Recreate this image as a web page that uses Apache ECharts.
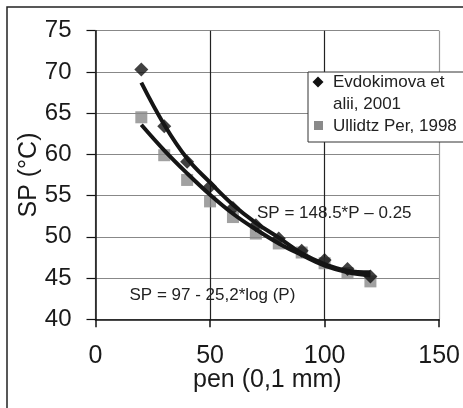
<!DOCTYPE html>
<html><head><meta charset="utf-8">
<script src="https://cdn.jsdelivr.net/npm/echarts@6/dist/echarts.min.js"></script>
<style>html,body{margin:0;padding:0;background:#fff}#c{width:463px;height:408px}</style>
</head><body><div id="c"></div>
<script>
const xCats = [20, 30, 40, 50, 60, 70, 80, 90, 100, 110, 120];
const evdokimova = [70.3, 63.4, 59.1, 56.1, 53.5, 51.4, 49.8, 48.3, 47.2, 46.1, 45.2];
const ullidtz = [64.5, 59.9, 56.9, 54.3, 52.4, 50.4, 49.2, 48.1, 46.8, 45.6, 44.6];
const fitPower = [68.7, 63.6, 59.5, 56.6, 53.9, 51.7, 49.9, 48.0, 46.7, 45.9, 45.7];
const fitLog = [63.6, 60.5, 57.7, 55.1, 52.8, 50.9, 49.2, 47.8, 46.5, 45.7, 45.3];
const xTicks = [0, 50, 100, 150];
const yTicks = [40, 45, 50, 55, 60, 65, 70, 75];
const seriesNames = ['Evdokimova et alii, 2001', 'Ullidtz Per, 1998'];

const pair = (arr) => xCats.map((x, i) => [x, arr[i]]);
const F = 'Liberation Sans, Arial, sans-serif';

const chart = echarts.init(document.getElementById('c'));
chart.setOption({
  animation: false,
  backgroundColor: '#fff',
  grid: { left: 95.5, right: 23, top: 30.7, bottom: 88.7 },
  xAxis: {
    type: 'value', min: xTicks[0], max: xTicks[xTicks.length - 1], interval: 50,
    name: 'pen (0,1 mm)', nameLocation: 'middle', nameGap: 48, nameMoveOverlap: false,
    nameTextStyle: { fontFamily: F, fontSize: 25, color: '#1a1a1a' },
    axisLine: { lineStyle: { color: '#111', width: 1.5 } },
    axisTick: { length: 8, lineStyle: { color: '#111', width: 1.5 } },
    axisLabel: { fontFamily: F, fontSize: 25, color: '#1a1a1a', margin: 24 },
    splitLine: { lineStyle: { color: ['#888', '#222', '#222', '#999'], width: 1.2 } }
  },
  yAxis: {
    type: 'value', min: yTicks[0], max: yTicks[yTicks.length - 1], interval: 5,
    name: 'SP (°C)', nameLocation: 'middle', nameGap: 54, nameMoveOverlap: false,
    nameTextStyle: { fontFamily: F, fontSize: 25, color: '#1a1a1a' },
    axisLine: { show: true, lineStyle: { color: '#111', width: 1.5 } },
    axisTick: { show: true, length: 9, lineStyle: { color: '#111', width: 1.2 } },
    axisLabel: { fontFamily: F, fontSize: 24, color: '#1a1a1a', margin: 24 },
    splitLine: { lineStyle: { color: '#888', width: 1.2 } }
  },
  series: [
    { name: seriesNames[0], type: 'scatter', symbol: 'diamond', symbolSize: 14,
      itemStyle: { color: '#111' }, data: pair(evdokimova), z: 3 },
    { name: seriesNames[1], type: 'scatter', symbol: 'rect', symbolSize: 12,
      itemStyle: { color: '#8a8a8a' }, data: pair(ullidtz), z: 2 },
    { name: 'fit power', type: 'line', smooth: 0.4, showSymbol: false,
      lineStyle: { color: '#151515', width: 4 }, data: pair(fitPower), z: 4 },
    { name: 'fit log', type: 'line', smooth: 0.4, showSymbol: false,
      lineStyle: { color: '#151515', width: 4 }, data: pair(fitLog), z: 4 }
  ],
  graphic: [
    { type: 'rect', shape: { x: 7, y: 7, width: 520, height: 520 },
      style: { fill: 'none', stroke: '#222', lineWidth: 1.5 }, z: 100 },
    { type: 'rect', shape: { x: 308, y: 72, width: 200, height: 70 },
      style: { fill: '#fff', stroke: '#333', lineWidth: 1 }, z: 100 },
    { type: 'polygon', shape: { points: [[318, 76.5], [323.5, 82], [318, 87.5], [312.5, 82]] },
      style: { fill: '#111' }, z: 101 },
    { type: 'rect', shape: { x: 314, y: 121, width: 9, height: 9 },
      style: { fill: '#8a8a8a' }, z: 101 },
    { type: 'text', x: 333, y: 82, z: 101,
      style: { text: 'Evdokimova et', font: '17px ' + F, fill: '#222', verticalAlign: 'middle' } },
    { type: 'text', x: 333, y: 104.5, z: 101,
      style: { text: 'alii, 2001', font: '17px ' + F, fill: '#222', verticalAlign: 'middle' } },
    { type: 'text', x: 333, y: 126.5, z: 101,
      style: { text: 'Ullidtz Per, 1998', font: '17px ' + F, fill: '#222', verticalAlign: 'middle' } },
    { type: 'text', x: 257, y: 213.5, z: 101,
      style: { text: 'SP = 148.5*P – 0.25', font: '17px ' + F, fill: '#222', verticalAlign: 'middle' } },
    { type: 'text', x: 129.5, y: 295, z: 101,
      style: { text: 'SP = 97 - 25,2*log (P)', font: '17px ' + F, fill: '#222', verticalAlign: 'middle' } }
  ]
});
</script></body></html>
